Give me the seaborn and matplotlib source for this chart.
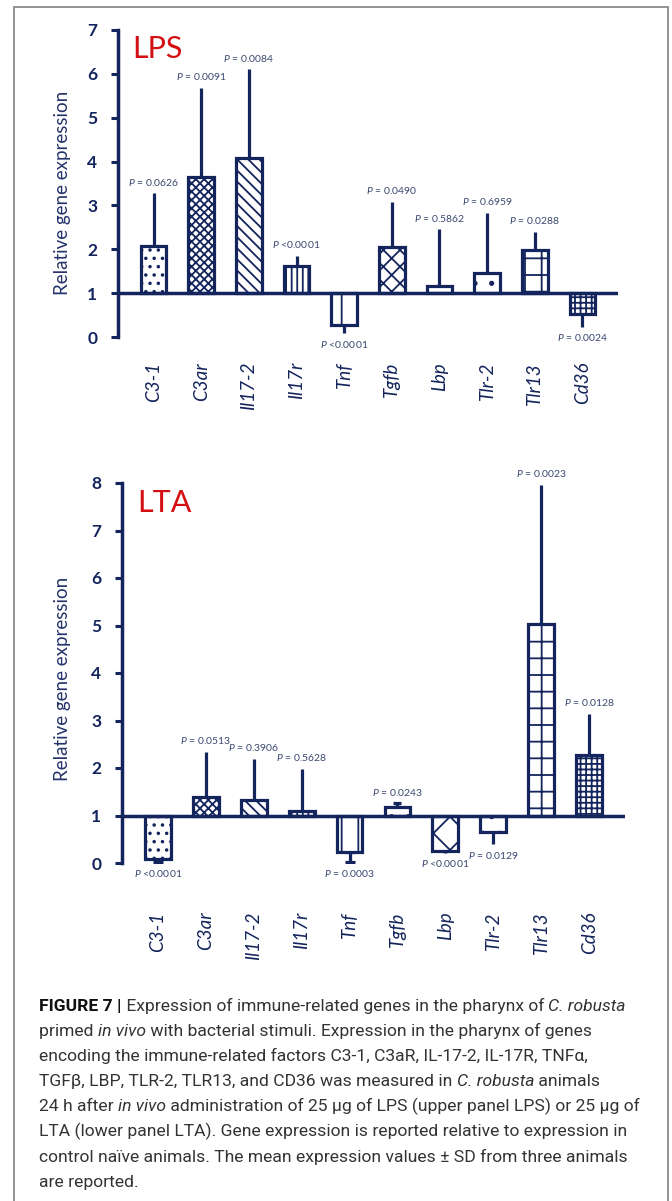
import numpy as np
import pandas as pd
import matplotlib
matplotlib.use("Agg")
import matplotlib.pyplot as plt
import seaborn as sns
from matplotlib import font_manager
from matplotlib.patches import Rectangle

# ---------------- data ----------------
genes = ["C3-1", "C3ar", "Il17-2", "Il17r", "Tnf", "Tgfb", "Lbp", "Tlr-2", "Tlr13", "Cd36"]
baseline = 1.0

lps_mean = [2.08, 3.65, 4.08, 1.62, 0.27, 2.05, 1.17, 1.46, 1.98, 0.52]
lps_sd = [1.20, 2.03, 2.02, 0.23, 0.18, 1.03, 1.29, 1.37, 0.42, 0.29]
lps_p = ["= 0.0626", "= 0.0091", "= 0.0084", "<0.0001", "<0.0001",
         "= 0.0490", "= 0.5862", "= 0.6959", "= 0.0288", "= 0.0024"]
lps_ticks = [0, 1, 2, 3, 4, 5, 6, 7]

lta_mean = [0.08, 1.39, 1.33, 1.10, 0.23, 1.18, 0.25, 0.65, 5.03, 2.27]
lta_sd = [0.06, 0.95, 0.86, 0.88, 0.21, 0.08, 0.03, 0.25, 2.93, 0.87]
lta_p = ["<0.0001", "= 0.0513", "= 0.3906", "= 0.5628", "= 0.0003",
         "= 0.0243", "<0.0001", "= 0.0129", "= 0.0023", "= 0.0128"]
lta_ticks = [0, 1, 2, 3, 4, 5, 6, 7, 8]

ylabel_text = "Relative gene expression"
caption_lines = [
    [("FIGURE 7 |", "normal", "bold"), (" Expression of immune-related genes in the pharynx of ", "normal", "normal"),
     ("C. robusta", "italic", "normal")],
    [("primed ", "normal", "normal"), ("in vivo", "italic", "normal"),
     (" with bacterial stimuli. Expression in the pharynx of genes", "normal", "normal")],
    [("encoding the immune-related factors C3-1, C3aR, IL-17-2, IL-17R, TNFα,", "normal", "normal")],
    [("TGFβ, LBP, TLR-2, TLR13, and CD36 was measured in ", "normal", "normal"),
     ("C. robusta", "italic", "normal"), (" animals", "normal", "normal")],
    [("24 h after ", "normal", "normal"), ("in vivo", "italic", "normal"),
     (" administration of 25 μg of LPS (upper panel LPS) or 25 μg of", "normal", "normal")],
    [("LTA (lower panel LTA). Gene expression is reported relative to expression in", "normal", "normal")],
    [("control naïve animals. The mean expression values ± SD from three animals", "normal", "normal")],
    [("are reported.", "normal", "normal")],
]
# right edge (px) of each caption line in the reference, used to fit the font size
caption_right = [648, 594, 593, 629, 649, 623, 634, 140]

# ---------------- style ----------------
NAVY = "#14245c"
PTXT = "#3a4870"
RED = "#d40f14"
W, H = 672, 1201

sns.set_theme(style="white")
plt.rcParams["font.family"] = ["Lato", "DejaVu Sans"]
plt.rcParams["mathtext.fontset"] = "custom"
plt.rcParams["mathtext.rm"] = "Lato"
plt.rcParams["mathtext.it"] = "Lato:italic"
plt.rcParams["mathtext.bf"] = "Lato:bold"
plt.rcParams["hatch.linewidth"] = 1.3

lps_hatch = ["..", "xxxx", "\\\\\\", "|||", "|", "xx", "", ".", "+", "+++"]
lta_hatch = ["..", "xxxx", "\\\\\\", "|||", "|", ".", "x", ".", "+", "+++"]
lps_caps = [0] * 10
lta_caps = [3.5, 0, 0, 0, 3.5, 3, 0, 0, 0, 0]

fig = plt.figure(figsize=(W / 100, H / 100), dpi=100)


def px_axes(left, top, right, bottom):
    return fig.add_axes([left / W, 1 - bottom / H, (right - left) / W, (bottom - top) / H])


def panel(ax, mean, sd, pvals, ticks, hatches, caps, xpad, ylab_xy):
    df = pd.DataFrame({"gene": genes, "delta": np.array(mean) - baseline})
    sns.barplot(data=df, x="gene", y="delta", order=genes, bottom=baseline,
                color="white", edgecolor=NAVY, linewidth=2.3, width=0.54,
                errorbar=None, ax=ax, zorder=3)
    for patch, h in zip(ax.patches, hatches):
        if h:
            patch.set_hatch(h)
    m = np.array(mean)
    s = np.array(sd)
    xs = np.arange(len(genes))
    up = np.where(m >= baseline, s, 0.0)
    lo = np.where(m < baseline, s, 0.0)
    for i in range(len(genes)):
        ax.errorbar(xs[i], m[i], yerr=[[lo[i]], [up[i]]], fmt="none", ecolor=NAVY,
                    elinewidth=2.3, capsize=caps[i], capthick=2.3, zorder=2)
        label = r"$\mathit{P}$ " + pvals[i]
        if m[i] >= baseline:
            ax.annotate(label, (xs[i], m[i] + up[i]), xytext=(0, 4), textcoords="offset points",
                        ha="center", va="bottom", fontsize=7.5, color=PTXT)
        else:
            ax.annotate(label, (xs[i], m[i] - lo[i]), xytext=(0, -4), textcoords="offset points",
                        ha="center", va="top", fontsize=7.5, color=PTXT)
    ax.set_ylim(ticks[0], ticks[-1])
    ax.set_yticks(ticks)
    ax.set_yticklabels([str(t) for t in ticks], fontweight="bold", fontsize=12.5, color=NAVY)
    ax.axhline(baseline, color=NAVY, lw=2.5, zorder=4)
    for sp in ["top", "right", "bottom"]:
        ax.spines[sp].set_visible(False)
    ax.spines["left"].set_color(NAVY)
    ax.spines["left"].set_linewidth(2.5)
    ax.tick_params(axis="y", left=True, length=5, width=2.2, color=NAVY, pad=10)
    ax.set_xticks(range(len(genes)))
    ax.set_xticklabels(genes, fontstyle="italic", rotation=90, fontsize=13.5, color=NAVY)
    ax.tick_params(axis="x", bottom=False, length=0, pad=xpad)
    ax.set_xlabel("")
    ax.set_ylabel(ylabel_text, fontsize=13.5, color="#24336a")
    ax.yaxis.set_label_coords(*ylab_xy)
    ax.set_facecolor("none")


ax1 = px_axes(118, 30, 618, 337)
panel(ax1, lps_mean, lps_sd, lps_p, lps_ticks, lps_hatch, lps_caps, 18, (-0.094, 0.469))
fig.text(132 / W, 1 - 58 / H, "LPS", color=RED, fontsize=22, va="baseline", ha="left")

ax2 = px_axes(122, 483, 625, 863)
panel(ax2, lta_mean, lta_sd, lta_p, lta_ticks, lta_hatch, lta_caps, 35, (-0.101, 0.484))
fig.text(137 / W, 1 - 512 / H, "LTA", color=RED, fontsize=22, va="baseline", ha="left")

# border box
fig.add_artist(Rectangle((14 / W, -0.01), (668 - 14) / W, 1.01 - 7 / H, transform=fig.transFigure,
                         fill=False, edgecolor="#8a8a8a", linewidth=1.3))

# ---------------- caption ----------------
names = {f.name for f in font_manager.fontManager.ttflist}
cap_family = "Liberation Sans Narrow" if "Liberation Sans Narrow" in names else "Roboto"
renderer = fig.canvas.get_renderer()


def measure(txt, size, style, weight):
    t1 = fig.text(0, 0, "|" + txt + "|", fontsize=size, family=cap_family, style=style, weight=weight)
    t2 = fig.text(0, 0, "||", fontsize=size, family=cap_family, style=style, weight=weight)
    w = t1.get_window_extent(renderer).width - t2.get_window_extent(renderer).width
    t1.remove()
    t2.remove()
    return w


def line_width(pieces, size):
    return sum(measure(t, size, st, wt) for t, st, wt in pieces)


x0, y0, dy = 39, 1011, 25.1
base_size = 11.0
cap_size = min(base_size * (r - x0) / line_width(p, base_size)
               for p, r in zip(caption_lines, caption_right))

for k, pieces in enumerate(caption_lines):
    x = x0
    y = y0 + k * dy
    for txt, st, wt in pieces:
        fig.text(x / W, 1 - y / H, txt, fontsize=cap_size, family=cap_family, style=st,
                 weight=wt, color="#333333" if wt != "bold" else "#111111",
                 ha="left", va="baseline")
        x += measure(txt, cap_size, st, wt)

fig.savefig("out.png", dpi=100)
